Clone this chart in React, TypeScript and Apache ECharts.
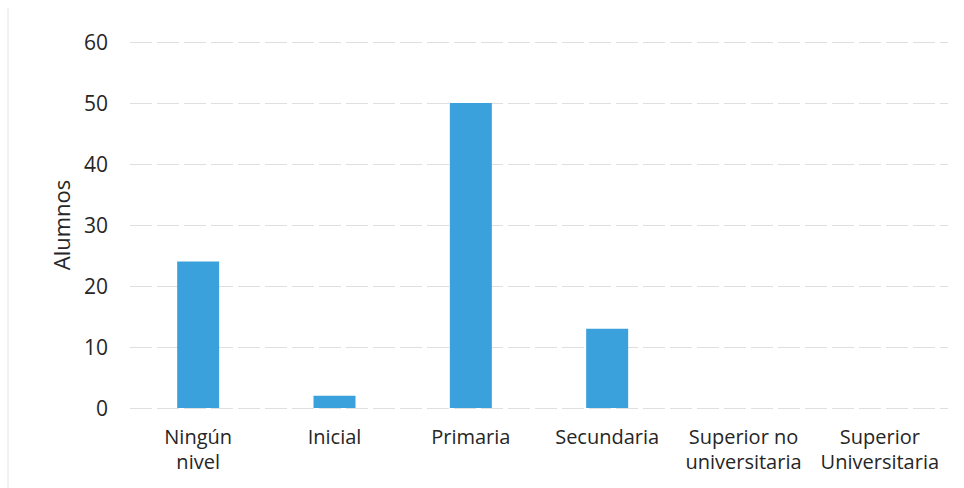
import React, { useEffect, useRef } from "react";
import * as echarts from "echarts";

const categories = [
  "Ningún\nnivel",
  "Inicial",
  "Primaria",
  "Secundaria",
  "Superior no\nuniversitaria",
  "Superior\nUniversitaria",
];
const alumnos = [24, 2, 50, 13, 0, 0];
const yTicks = { min: 0, max: 60, interval: 10 };

export default function App() {
  const ref = useRef<HTMLDivElement>(null);

  useEffect(() => {
    const chart = echarts.init(ref.current!, null, { renderer: "svg" });
    chart.setOption({
      animation: false,
      backgroundColor: "#ffffff",
      textStyle: { fontFamily: "'Open Sans', sans-serif" },
      grid: { left: 130, right: 16, top: 42, bottom: 80 },
      graphic: [
        {
          type: "line",
          shape: { x1: 8, y1: 8, x2: 8, y2: 488 },
          style: { stroke: "#e4e4e4", lineWidth: 1 },
        },
      ],
      xAxis: {
        type: "category",
        data: categories,
        axisLine: { show: false },
        axisTick: { show: false },
        axisLabel: {
          color: "#262626",
          fontSize: 20,
          lineHeight: 25,
          margin: 16,
          interval: 0,
        },
      },
      yAxis: {
        type: "value",
        min: yTicks.min,
        max: yTicks.max,
        interval: yTicks.interval,
        name: "Alumnos",
        nameLocation: "middle",
        nameGap: 58,
        nameRotate: 90,
        nameTextStyle: { color: "#262626", fontSize: 22 },
        axisLine: { show: false },
        axisTick: { show: false },
        axisLabel: { color: "#262626", fontSize: 21, margin: 22 },
        splitLine: {
          lineStyle: { color: "#dfdfdf", width: 1, type: [22, 5] },
        },
      },
      series: [
        {
          type: "bar",
          data: alumnos,
          barWidth: 42,
          itemStyle: { color: "#3ba1dc" },
        },
      ],
    });
    return () => chart.dispose();
  }, []);

  return (
    <div
      ref={ref}
      style={{ position: "fixed", left: 0, top: 0, width: 964, height: 488 }}
    />
  );
}
